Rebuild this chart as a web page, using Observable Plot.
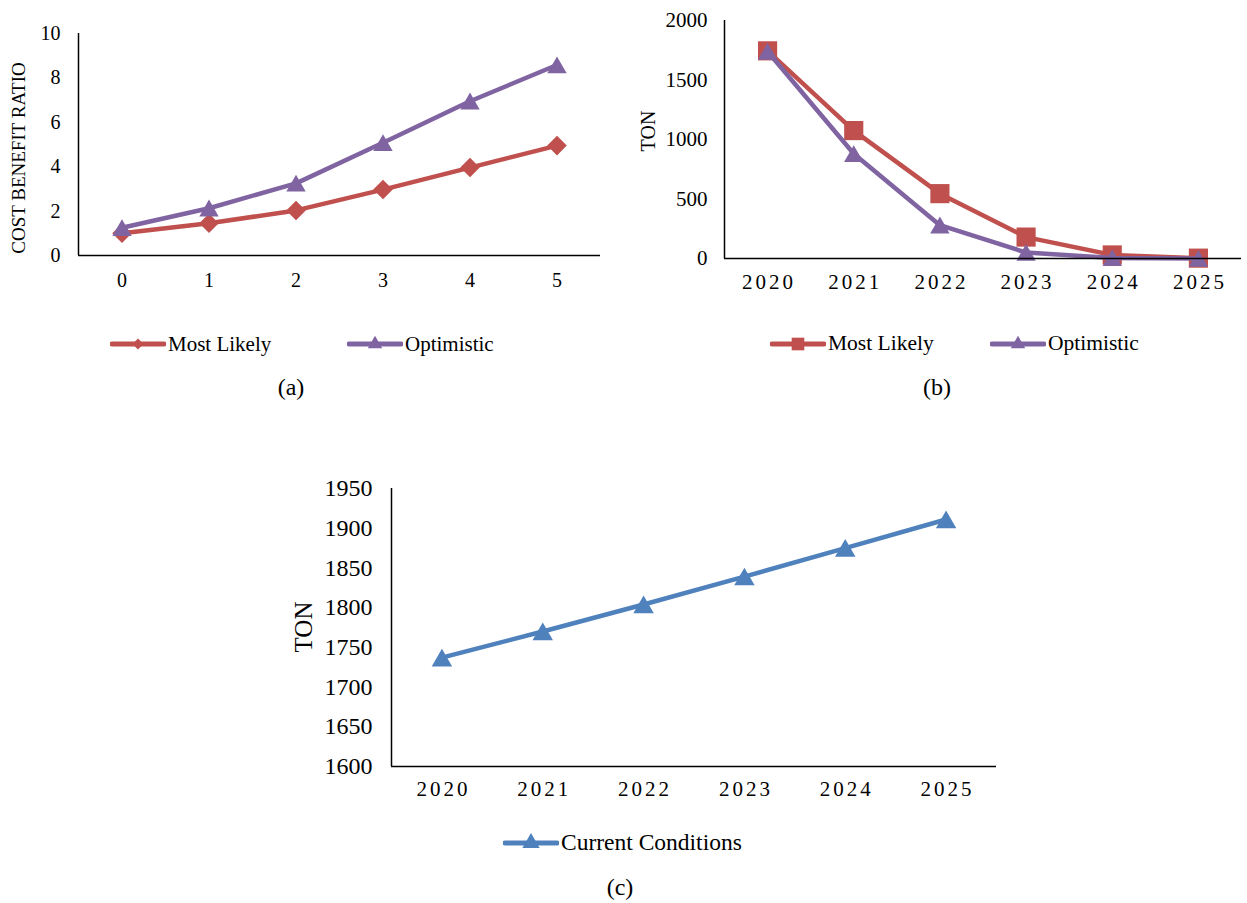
<!DOCTYPE html>
<html><head><meta charset="utf-8">
<script src="https://cdn.jsdelivr.net/npm/d3@7"></script>
<script src="https://cdn.jsdelivr.net/npm/@observablehq/plot@0.6"></script>
<style>
body{margin:0;background:#fff;}
#root{position:relative;width:1247px;height:903px;overflow:hidden;font-family:"Liberation Serif","Times New Roman",serif;color:#000;}
.abs{position:absolute;white-space:nowrap;line-height:1;}
.xs g[aria-label="x-axis tick label"] text{letter-spacing:3px;}
</style></head><body><div id="root"></div>
<script>
// ---- data ----
const xA = [0, 1, 2, 3, 4, 5];
const aMostLikely = [1.0, 1.45, 2.03, 2.97, 3.96, 4.95];
const aOptimistic = [1.25, 2.13, 3.25, 5.08, 6.95, 8.58];
const aYTicks = [0, 2, 4, 6, 8, 10];

const years = [2020, 2021, 2022, 2023, 2024, 2025];
const bMostLikely = [1745, 1075, 545, 180, 30, 3];
const bOptimistic = [1740, 880, 280, 50, 5, 0];
const bYTicks = [0, 500, 1000, 1500, 2000];

const cCurrent = [1737, 1770, 1804, 1839, 1875, 1911];
const cYTicks = [1600, 1650, 1700, 1750, 1800, 1850, 1900, 1950];

const RED = "#C0504D", PURPLE = "#8064A2", BLUE = "#4F81BD";
const FONT = "'Liberation Serif', 'Times New Roman', serif";
const root = document.getElementById("root");

function place(el, left, top) {
  el.style.position = "absolute";
  el.style.left = left + "px";
  el.style.top = top + "px";
  root.appendChild(el);
}
function addText(txt, cx, cy, size, rotate) {
  const d = document.createElement("div");
  d.className = "abs";
  d.textContent = txt;
  d.style.left = cx + "px";
  d.style.top = cy + "px";
  d.style.fontSize = size + "px";
  d.style.transform = "translate(-50%,-50%)" + (rotate ? " rotate(-90deg)" : "");
  root.appendChild(d);
}
function legendItem(label, color, symbol, symSize, x, y, size) {
  const w = 56;
  const svg = d3.create("svg").attr("width", w).attr("height", 24)
    .style("position", "absolute").style("left", x + "px").style("top", (y - 12) + "px");
  svg.append("line").attr("x1", 2).attr("x2", w - 2).attr("y1", 12).attr("y2", 12)
    .attr("stroke", color).attr("stroke-width", 5).attr("stroke-linecap", "round");
  svg.append("path").attr("transform", "translate(" + (w / 2) + ",12)")
    .attr("d", d3.symbol(symbol, symSize)()).attr("fill", color);
  root.appendChild(svg.node());
  const t = document.createElement("div");
  t.className = "abs";
  t.textContent = label;
  t.style.fontSize = size + "px";
  t.style.left = (x + w + 2) + "px";
  t.style.top = y + "px";
  t.style.transform = "translateY(-50%)";
  root.appendChild(t);
}

function seriesMarks(xs, ys, color, symbol, r, dy) {
  const data = xs.map((x, i) => ({x, y: ys[i]}));
  return [
    Plot.line(data, {x: "x", y: "y", stroke: color, strokeWidth: 4.5, strokeLinejoin: "round"}),
    Plot.dot(data, {x: "x", y: "y", fill: color, symbol, r, dy: dy || 0, stroke: "none"})
  ];
}

// ---- chart (a) ----
const chartA = Plot.plot({
  width: 620, height: 300,
  marginTop: 33, marginBottom: 45, marginLeft: 78, marginRight: 20,
  style: {fontFamily: FONT, fontSize: "20px", color: "#000", background: "transparent"},
  x: {domain: [-0.5, 5.5]},
  y: {domain: [0, 10]},
  marks: [
    ...seriesMarks(xA, aMostLikely, RED, "diamond2", 8.8),
    ...seriesMarks(xA, aOptimistic, PURPLE, "triangle", 7.2, 2.6),
    Plot.ruleX([-0.5], {stroke: "#000", strokeWidth: 1.5}),
    Plot.ruleY([0], {stroke: "#000", strokeWidth: 1.5}),
    Plot.axisX({ticks: xA, tickSize: 0, tickPadding: 17, tickFormat: d => String(d), label: null}),
    Plot.axisY({ticks: aYTicks, tickSize: 0, tickPadding: 18, label: null})
  ]
});
place(chartA, 0, 0);

// ---- chart (b) ----
const chartB = Plot.plot({
  width: 607, height: 300,
  marginTop: 20, marginBottom: 42, marginLeft: 84, marginRight: 6,
  style: {fontFamily: FONT, fontSize: "21px", color: "#000", background: "transparent"},
  x: {domain: [2019.5, 2025.5]},
  y: {domain: [0, 2000]},
  marks: [
    ...seriesMarks(years, bMostLikely, RED, "square", 10.8),
    ...seriesMarks(years, bOptimistic, PURPLE, "triangle", 7.2, 2.6),
    Plot.ruleX([2019.5], {stroke: "#000", strokeWidth: 1.5}),
    Plot.ruleY([0], {stroke: "#000", strokeWidth: 1.5}),
    Plot.axisX({ticks: years, tickSize: 0, tickPadding: 16, tickFormat: d => String(d), label: null, dx: 1.5}),
    Plot.axisY({ticks: bYTicks, tickSize: 0, tickPadding: 17, tickFormat: d => String(d), label: null})
  ]
});
chartB.classList.add("xs");
place(chartB, 640, 0);

// ---- chart (c) ----
const chartC = Plot.plot({
  width: 720, height: 330,
  marginTop: 18, marginBottom: 34, marginLeft: 111, marginRight: 4,
  style: {fontFamily: FONT, fontSize: "24px", color: "#000", background: "transparent"},
  x: {domain: [2019.5, 2025.5]},
  y: {domain: [1600, 1950]},
  marks: [
    ...seriesMarks(years, cCurrent, BLUE, "triangle", 7.6, 2.8),
    Plot.ruleX([2019.5], {stroke: "#000", strokeWidth: 1.5}),
    Plot.ruleY([1600], {stroke: "#000", strokeWidth: 1.5}),
    Plot.axisX({ticks: years, tickSize: 0, tickPadding: 15, tickFormat: d => String(d), label: null, dx: 1.5, fontSize: 21}),
    Plot.axisY({ticks: cYTicks, tickSize: 0, tickPadding: 19, tickFormat: d => String(d), label: null})
  ]
});
chartC.classList.add("xs");
place(chartC, 280, 470);

// ---- titles, legends, captions ----
addText("COST BENEFIT RATIO", 18, 158, 19, true);
addText("TON", 648, 131, 20, true);
addText("TON", 303, 627, 25, true);

legendItem("Most Likely", RED, d3.symbolDiamond2, 80, 110, 344, 21);
legendItem("Optimistic", PURPLE, d3.symbolTriangle, 90, 347, 344, 21);
legendItem("Most Likely", RED, d3.symbolSquare, 160, 770, 344, 21.5);
legendItem("Optimistic", PURPLE, d3.symbolTriangle, 90, 990, 344, 21.5);
legendItem("Current Conditions", BLUE, d3.symbolTriangle, 130, 503, 843, 23.5);

addText("(a)", 291, 387, 24);
addText("(b)", 937, 387, 24);
addText("(c)", 620, 887, 24);
</script></body></html>
